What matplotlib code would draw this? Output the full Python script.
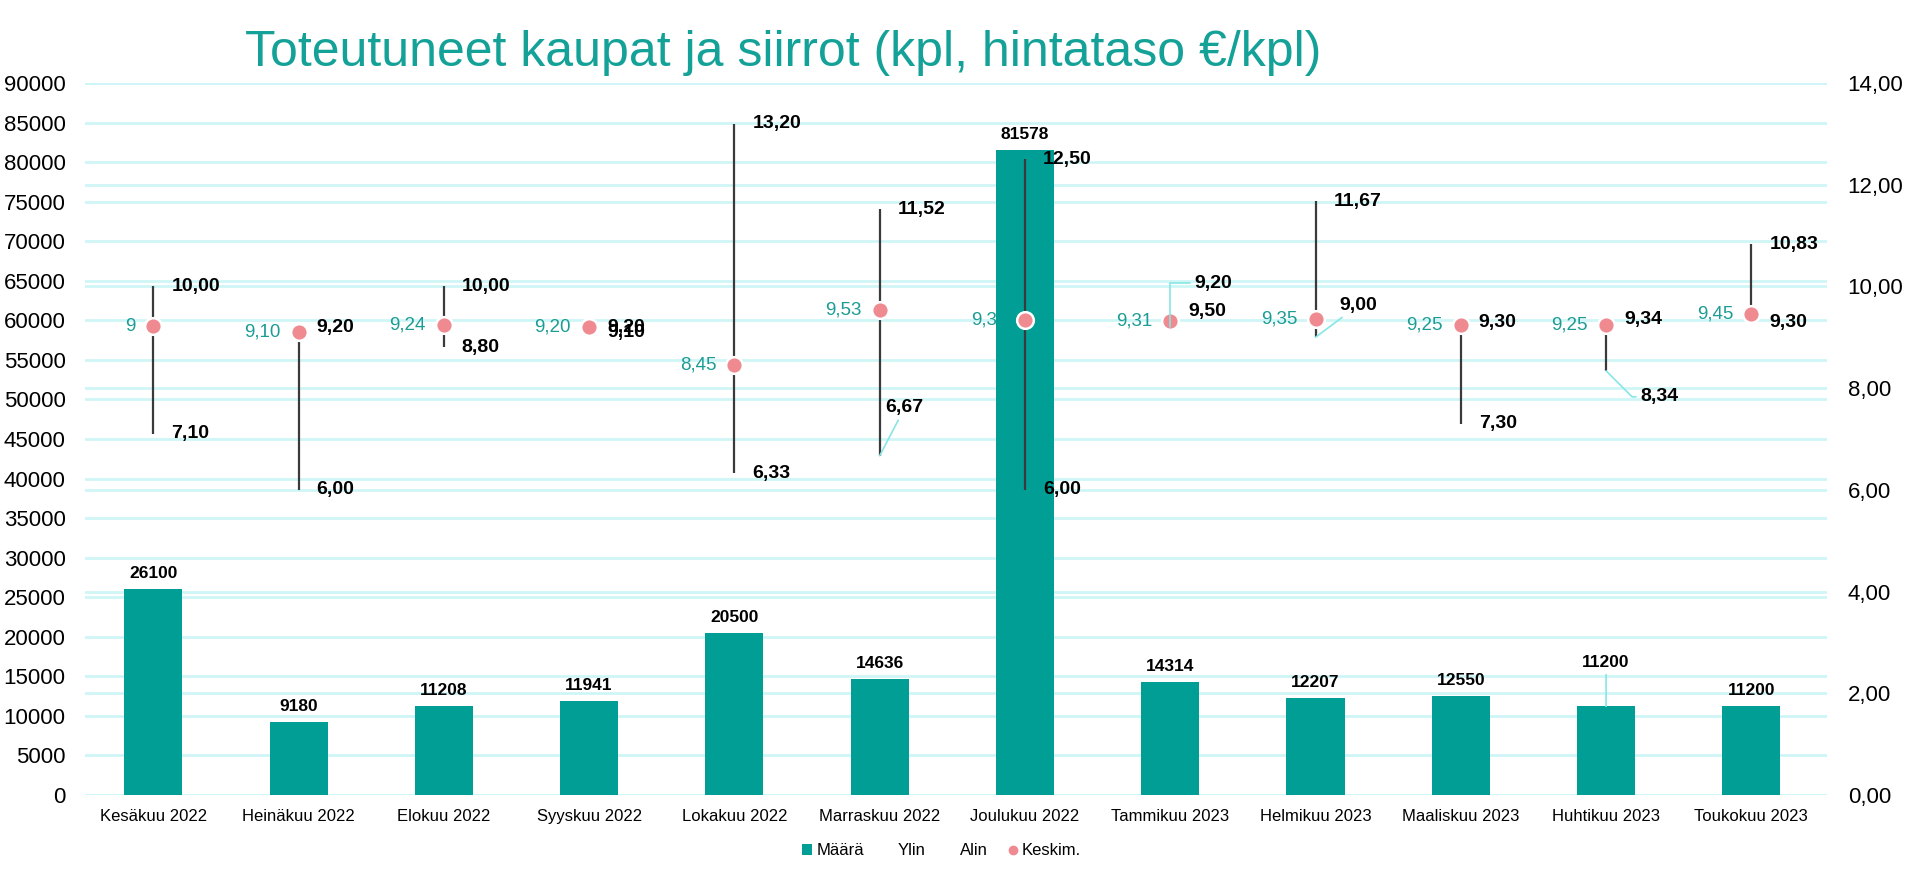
import matplotlib
matplotlib.use("Agg")
import matplotlib.pyplot as plt
import matplotlib.transforms as mtransforms
from matplotlib.patches import Patch
from matplotlib.lines import Line2D
from matplotlib.ticker import FuncFormatter, MultipleLocator

# Data
months = ["Kesäkuu 2022", "Heinäkuu 2022", "Elokuu 2022", "Syyskuu 2022",
          "Lokakuu 2022", "Marraskuu 2022", "Joulukuu 2022", "Tammikuu 2023",
          "Helmikuu 2023", "Maaliskuu 2023", "Huhtikuu 2023", "Toukokuu 2023"]
maara = [26100, 9180, 11208, 11941, 20500, 14636, 81578, 14314, 12207, 12550, 11200, 11200]
ylin = [10.00, 9.20, 10.00, 9.20, 13.20, 11.52, 12.50, 9.20, 11.67, 9.30, 9.34, 10.83]
alin = [7.10, 6.00, 8.80, 9.10, 6.33, 6.67, 6.00, 9.50, 9.00, 7.30, 8.34, 9.30]
keskim = [9.22, 9.10, 9.24, 9.20, 8.45, 9.53, 9.33, 9.31, 9.35, 9.25, 9.25, 9.45]
keskim_text = ["9", "9,10", "9,24", "9,20", "8,45", "9,53", "9,33", "9,31", "9,35", "9,25", "9,25", "9,45"]

# colours
TEAL = "#009E94"
TITLE_C = "#14A198"
MEAN_C = "#1C9C94"
GRID_C = "#CFF6F6"
LEADER_C = "#86E6E6"
PINK = "#EE8A90"

plt.rcParams["font.family"] = ["Liberation Sans", "DejaVu Sans"]

# labels that were moved by hand in the original: offset in pixels + leader shape
moved = {
    ("ylin", 7): ((24, 44), "angle,angleA=0,angleB=90,rad=0"),
    ("alin", 5): ((6, 48), "arc3"),
    ("alin", 8): ((24, 32), "arc3"),
    ("alin", 10): ((34, -26), "angle,angleA=0,angleB=-45,rad=0"),
    ("bar", 10): ((0, 36), "arc3"),
}


def fmt(v):
    return f"{v:.2f}".replace(".", ",")


def leader(key):
    return dict(arrowstyle="-", color=LEADER_C, lw=1.2, shrinkA=1, shrinkB=0,
                connectionstyle=moved[key][1])


fig = plt.figure(figsize=(19.10, 8.77), dpi=100)
fig.subplots_adjust(left=0.0445, right=0.9565, bottom=0.0935, top=0.9054)
ax = fig.add_subplot(111)
ax2 = ax.twinx()

x = list(range(len(months)))

ax.set_ylim(0, 90000)
ax2.set_ylim(0, 14)
ax.set_xlim(-0.47, 11.52)

# gridlines of both axes, kept behind the bars
ax.set_axisbelow(True)
ax.yaxis.set_major_locator(MultipleLocator(5000))
ax.grid(axis="y", color=GRID_C, lw=2)
ax2.yaxis.set_major_locator(MultipleLocator(2))
blend = mtransforms.blended_transform_factory(ax.transAxes, ax2.transData)
for v in range(0, 15, 2):
    ax.plot([0, 1], [v, v], transform=blend, color=GRID_C, lw=2, zorder=0.6)

bars = ax.bar(x, maara, width=0.4, color=TEAL, zorder=2, label="Määrä")

for i, v in enumerate(maara):
    key = ("bar", i)
    kw = {"arrowprops": leader(key)} if key in moved else {}
    dx, dy = moved[key][0] if key in moved else (0, 8)
    ax.annotate(str(v), xy=(i, v), xytext=(dx, dy), textcoords="offset pixels",
                ha="center", va="bottom", fontsize=12.5, fontweight="bold", zorder=5, **kw)

# mean labels drawn in the bar axes so the bar can cover them (Joulukuu)
for i, v in enumerate(keskim):
    ax.annotate(keskim_text[i], xy=(i, v), xycoords=ax2.transData, xytext=(-18, 0),
                textcoords="offset pixels", ha="right", va="center",
                fontsize=13.5, color=MEAN_C, zorder=1.5)

# high-low lines and mean markers
ax2.vlines(x, alin, ylin, color="#3A3A3A", lw=1.6, zorder=3)
ax2.plot(x, ylin, linestyle="none", label="Ylin")
ax2.plot(x, alin, linestyle="none", label="Alin")
ax2.plot(x, keskim, "o", ms=12, mfc=PINK, mec="white", mew=1.8, zorder=4, label="Keskim.")

for name, vals in (("ylin", ylin), ("alin", alin)):
    for i, v in enumerate(vals):
        key = (name, i)
        kw = {"arrowprops": leader(key)} if key in moved else {}
        dx, dy = moved[key][0] if key in moved else (18, 0)
        ax2.annotate(fmt(v), xy=(i, v), xytext=(dx, dy), textcoords="offset pixels",
                     ha="left", va="center", fontsize=14, fontweight="bold", zorder=5, **kw)

# axes styling
for a in (ax, ax2):
    for s in a.spines.values():
        s.set_visible(False)
    a.tick_params(length=0)
ax.set_xticks(x, months)
ax.tick_params(axis="x", labelsize=12, pad=10)
ax.tick_params(axis="y", labelsize=16, pad=14)
ax2.tick_params(axis="y", labelsize=16, pad=15)
ax2.yaxis.set_major_formatter(FuncFormatter(lambda v, p: fmt(v)))

fig.text(0.41, 0.94, "Toteutuneet kaupat ja siirrot (kpl, hintataso €/kpl)",
         ha="center", va="center", fontsize=36, color=TITLE_C)

handles = [Patch(facecolor=TEAL, edgecolor="none"),
           Line2D([], [], linestyle="none"),
           Line2D([], [], linestyle="none"),
           Line2D([], [], linestyle="none", marker="o", ms=6, mfc=PINK, mec=PINK)]
fig.legend(handles, ["Määrä", "Ylin", "Alin", "Keskim."], loc="center",
           bbox_to_anchor=(0.493, 0.03), ncol=4, frameon=False, fontsize=12,
           handlelength=0.6, handleheight=0.6, handletextpad=0.25, columnspacing=1.2)

fig.savefig("out.png", dpi=100)
